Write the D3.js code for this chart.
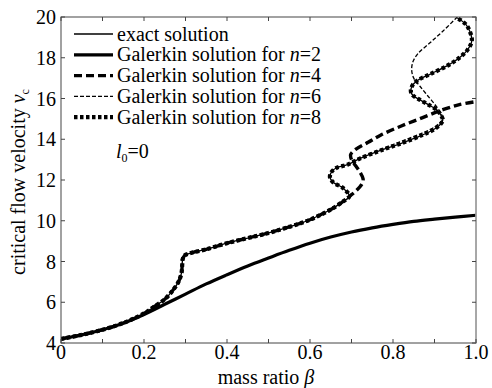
<!DOCTYPE html>
<html><head><meta charset="utf-8">
<script src="https://cdn.jsdelivr.net/npm/d3@7"></script>
<style>body{margin:0;background:#fff}svg{display:block}svg text{font-family:"Liberation Serif";}</style>
</head><body><svg id="c" width="492" height="388"></svg>
<script>
// n = 2 Galerkin (lower curve)
const n2Beta = [0,0.05,0.1,0.15,0.2,0.25,0.3,0.35,0.4,0.45,0.5,0.55,0.6,0.65,0.7,0.75,0.8,0.85,0.9,0.95,1.0];
const n2V    = [4.2,4.4,4.65,4.97,5.4,5.9,6.4,6.9,7.35,7.78,8.17,8.55,8.9,9.2,9.45,9.65,9.82,9.97,10.08,10.18,10.27];
// common upper branch (n = 4, 6, 8) up to beta ~ 0.695
const upBeta = [0,0.05,0.1,0.15,0.2,0.22,0.25,0.27,0.283,0.29,0.292,0.293,0.298,0.31,0.35,0.4,0.45,0.5,0.55,0.6,0.65,0.68,0.695];
const upV    = [4.2,4.4,4.65,4.98,5.45,5.72,6.15,6.6,7.0,7.4,7.8,8.1,8.3,8.4,8.6,8.9,9.15,9.4,9.7,10.05,10.55,10.95,11.2];
// n = 4 continuation
const n4Beta = [0.71,0.725,0.728,0.72,0.71,0.7,0.698,0.71,0.74,0.77,0.82,0.87,0.92,0.96,1.0];
const n4V    = [11.45,11.8,12.05,12.4,12.7,13.0,13.25,13.5,13.85,14.2,14.65,15.05,15.45,15.7,15.85];
// n = 8 continuation
const n8Beta = [0.68,0.655,0.648,0.652,0.664,0.69,0.72,0.77,0.82,0.87,0.9,0.915,0.92,0.915,0.905,0.885,0.865,0.848,0.843,0.847,0.86,0.89,0.93,0.96,0.98,0.99,0.985,0.975,0.955];
const n8V    = [11.6,11.9,12.15,12.4,12.6,12.75,13.05,13.45,13.8,14.2,14.5,14.75,14.95,15.2,15.45,15.7,15.93,16.15,16.35,16.65,16.9,17.2,17.6,18.0,18.4,18.85,19.3,19.65,19.95];
// n = 6 continuation
const n6Beta = [0.68,0.655,0.648,0.652,0.664,0.69,0.72,0.77,0.82,0.87,0.9,0.915,0.92,0.915,0.905,0.885,0.865,0.85,0.845,0.848,0.86,0.89,0.92,0.95,0.955];
const n6V    = [11.6,11.9,12.15,12.4,12.6,12.75,13.1,13.5,13.9,14.3,14.6,14.85,15.0,15.3,15.6,16.1,16.6,17.0,17.4,17.8,18.2,18.75,19.3,19.9,20.0];
const xTicks = [0,0.2,0.4,0.6,0.8,1.0];
const xTickLabels = ["0","0.2","0.4","0.6","0.8","1.0"];
const yTicks = [4,6,8,10,12,14,16,18,20];

const FONT = "Liberation Serif";
const svg = d3.select("#c");
const L=61,R=476,T=17,B=343;
const x = d3.scaleLinear().domain([0,1]).range([L,R]);
const y = d3.scaleLinear().domain([4,20]).range([B,T]);
const zip=(a,b)=>a.map((v,i)=>[v,b[i]]);
const up = zip(upBeta,upV);
const series = [
  {name:"exact", pts: up.concat(zip(n8Beta,n8V)), w:1.3, dash:null},
  {name:"n2", pts: zip(n2Beta,n2V), w:3.2, dash:null},
  {name:"n4", pts: up.concat(zip(n4Beta,n4V)), w:3.4, dash:"8,4"},
  {name:"n6", pts: up.concat(zip(n6Beta,n6V)), w:1.3, dash:"4,2"},
  {name:"n8", pts: up.concat(zip(n8Beta,n8V)), w:4.2, dash:"3.5,2.5"}
];
const line = d3.line().x(d=>x(d[0])).y(d=>y(d[1])).curve(d3.curveCatmullRom.alpha(0.5));
svg.append("clipPath").attr("id","cp").append("rect").attr("x",L).attr("y",T).attr("width",R-L).attr("height",B-T);
const g = svg.append("g").attr("clip-path","url(#cp)");
series.forEach(s=>{
  g.append("path").attr("d",line(s.pts)).attr("fill","none").attr("stroke","#000")
   .attr("stroke-width",s.w).attr("stroke-dasharray",s.dash).attr("stroke-linejoin","round");
});
// frame
svg.append("rect").attr("x",L).attr("y",T).attr("width",R-L).attr("height",B-T).attr("fill","none").attr("stroke","#444").attr("stroke-width",1);
svg.append("line").attr("x1",R).attr("x2",R).attr("y1",T).attr("y2",B).attr("stroke","#aaa").attr("stroke-width",1.5);
// axes with inward ticks
const minorX = d3.range(0,1.0001,0.1);
const ax = svg.append("g");
minorX.forEach(t=>{
  ax.append("line").attr("x1",x(t)).attr("x2",x(t)).attr("y1",B).attr("y2",B-4).attr("stroke","#444");
  ax.append("line").attr("x1",x(t)).attr("x2",x(t)).attr("y1",T).attr("y2",T+4).attr("stroke","#444");
});
xTicks.forEach((t,i)=>{
  ax.append("text").style("font-family",FONT).attr("x",x(t)).attr("y",B+16).attr("text-anchor","middle").attr("font-size",20).text(xTickLabels[i]);
});
yTicks.forEach(t=>{
  ax.append("line").attr("x1",L).attr("x2",L+4).attr("y1",y(t)).attr("y2",y(t)).attr("stroke","#444");
  ax.append("line").attr("x1",R).attr("x2",R-4).attr("y1",y(t)).attr("y2",y(t)).attr("stroke","#444");
  ax.append("text").style("font-family",FONT).attr("x",L-5).attr("y",y(t)).attr("dy","0.35em").attr("text-anchor","end").attr("font-size",20).text(t);
});
// axis titles
const xt = svg.append("text").style("font-family",FONT).attr("x",266).attr("y",384).attr("text-anchor","middle").attr("font-size",20);
xt.append("tspan").text("mass ratio ");
xt.append("tspan").attr("font-style","italic").text("β");
const yt = svg.append("text").style("font-family",FONT).attr("transform","translate(25,182) rotate(-90)").attr("text-anchor","middle").attr("font-size",20);
yt.append("tspan").text("critical flow velocity ");
yt.append("tspan").attr("font-style","italic").text("v");
yt.append("tspan").attr("font-size",12).attr("dy",4).text("c");
// legend
const legend = [
  {label:["exact solution"], s:series[0]},
  {label:["Galerkin solution for ","n","=2"], s:series[1]},
  {label:["Galerkin solution for ","n","=4"], s:series[2]},
  {label:["Galerkin solution for ","n","=6"], s:series[3]},
  {label:["Galerkin solution for ","n","=8"], s:series[4]}
];
legend.forEach((d,i)=>{
  const yy = 34 + i*20.8;
  svg.append("line").attr("x1",74).attr("x2",113).attr("y1",yy).attr("y2",yy).attr("stroke","#000")
    .attr("stroke-width",d.s.w).attr("stroke-dasharray",d.s.dash);
  const t = svg.append("text").style("font-family",FONT).attr("x",117).attr("y",yy).attr("dy","0.33em").attr("font-size",20);
  d.label.forEach((p,j)=>{ t.append("tspan").attr("font-style",j===1?"italic":"normal").text(p); });
});
const lt = svg.append("text").style("font-family",FONT).attr("x",116).attr("y",158).attr("font-size",20);
lt.append("tspan").attr("font-style","italic").text("l");
lt.append("tspan").attr("font-size",12).attr("dy",4).text("0");
lt.append("tspan").attr("dy",-4).text("=0");
</script></body></html>
